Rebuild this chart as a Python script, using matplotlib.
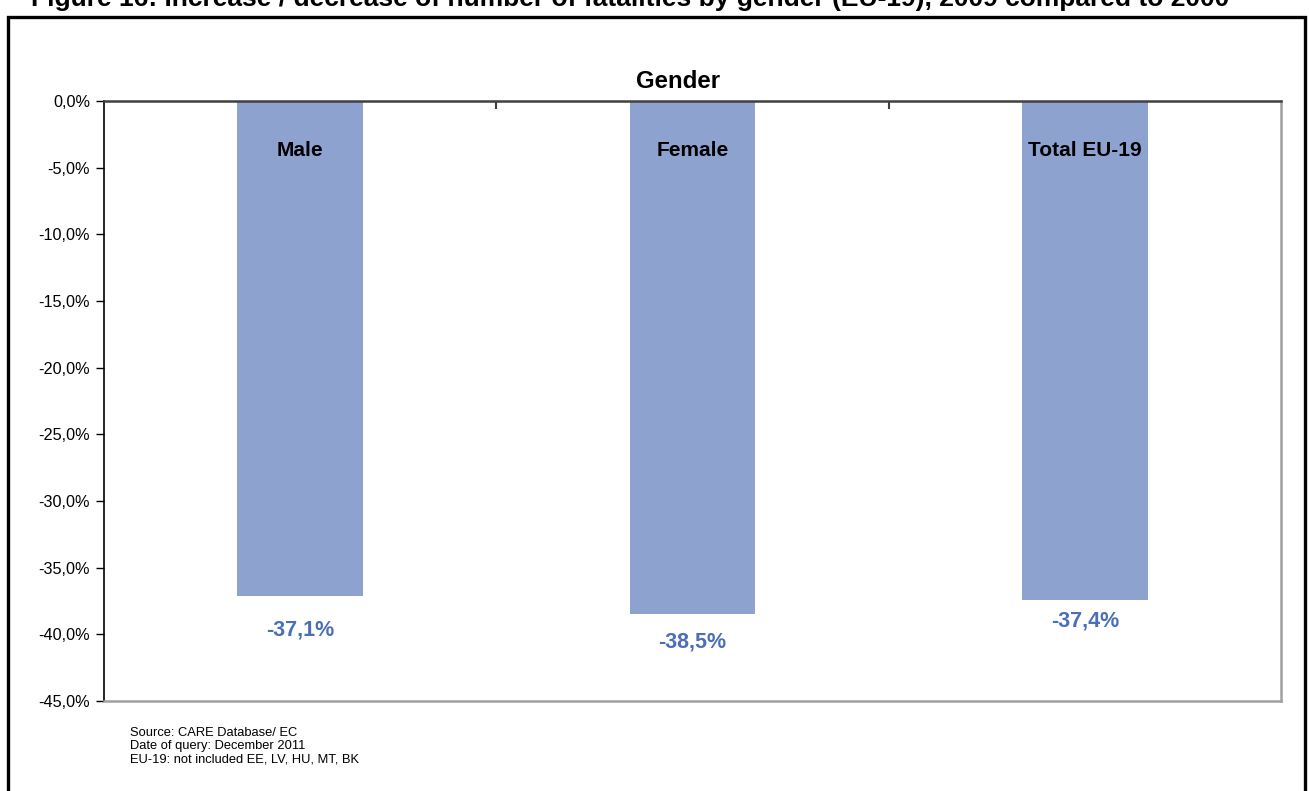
#increase / decrease of number of fatalities by gender (EU-19)

import matplotlib.pyplot as plt
import matplotlib.patches as patches

#----------------------------------------------------------------------------------

categories = ["Male", "Female", "Total EU-19"]
change_pct = [-37.1, -38.5, -37.4]
value_labels = ["-37,1%", "-38,5%", "-37,4%"]
y_ticks = [0, -5, -10, -15, -20, -25, -30, -35, -40, -45]
y_tick_labels = ["0,0%", "-5,0%", "-10,0%", "-15,0%", "-20,0%", "-25,0%",
                 "-30,0%", "-35,0%", "-40,0%", "-45,0%"]
#vertical offset (points) of each value label below its bar, as placed in the original
label_offsets = [-25, -20, -15]

bar_color = "#8EA2CF"
label_color = "#4A6FB8"

plt.rcParams["font.family"] = ["Liberation Sans", "DejaVu Sans"]

#----------------------------------------------------------------------------------

fig = plt.figure(figsize = (13.09, 7.91), dpi = 100)
ax = fig.add_axes([104 / 1309, 1 - 701 / 791, (1281 - 104) / 1309, 600 / 791])

x = list(range(len(categories)))
ax.bar(x, change_pct, width = 0.32, color = bar_color, zorder = 2)

ax.set_xlim(-0.5, len(categories) - 0.5)
ax.set_ylim(-45, 0)
ax.set_yticks(y_ticks)
ax.set_yticklabels(y_tick_labels, fontsize = 11.7)
ax.tick_params(axis = "y", direction = "out", length = 6, width = 1, pad = 4)

#category axis sits on the zero line at the top, ticks between categories
ax.xaxis.tick_top()
ax.set_xticks([0.5, 1.5])
ax.set_xticklabels([])
ax.tick_params(axis = "x", direction = "in", length = 6, width = 1.5, color = "#404040")

ax.spines["left"].set_color("black")
ax.spines["left"].set_linewidth(1.2)
ax.spines["top"].set_color("#404040")
ax.spines["top"].set_linewidth(1.8)
ax.spines["right"].set_color("#A0A0A0")
ax.spines["right"].set_linewidth(1.8)
ax.spines["bottom"].set_color("#A0A0A0")
ax.spines["bottom"].set_linewidth(1.8)

for i, name in enumerate(categories):
    ax.text(x[i], -3.7, name, ha = "center", va = "center", fontsize = 15,
            fontweight = "bold", color = "black", zorder = 3)
    ax.annotate(value_labels[i], xy = (x[i], change_pct[i]), xytext = (0, label_offsets[i]),
                textcoords = "offset points", ha = "center", va = "center",
                fontsize = 15.5, fontweight = "bold", color = label_color)

ax.text(0.4875, 1.033, "Gender", transform = ax.transAxes, ha = "center", va = "center",
        fontsize = 17.3, fontweight = "bold")

#----------------------------------------------------------------------------------

#figure caption, clipped at the top of the picture as in the original
fig.text(630 / 1309, 1 - 6 / 791, "Figure 16: Increase / decrease of number of fatalities by gender (EU-19), 2009 compared to 2000",
         ha = "center", va = "baseline", fontsize = 19, fontweight = "bold")

#outer frame
frame = patches.Rectangle((8 / 1309, -0.05), (1305 - 8) / 1309, 1.05 - 17 / 791,
                          transform = fig.transFigure, fill = False, edgecolor = "black",
                          linewidth = 2.4, clip_on = False)
fig.patches.append(frame)

fig.text(130 / 1309, 1 - 727 / 791,
         "Source: CARE Database/ EC\nDate of query: December 2011\nEU-19: not included EE, LV, HU, MT, BK",
         ha = "left", va = "top", fontsize = 9.3, linespacing = 1.12)

#----------------------------------------------------------------------------------

fig.savefig("out.png", dpi = 100)
